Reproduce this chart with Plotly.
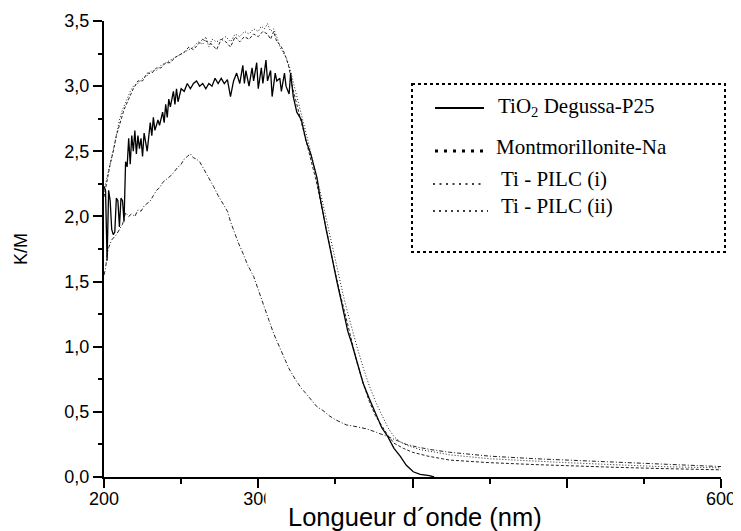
import plotly.graph_objects as go

# ---------------- data ----------------
tio2_x = [200, 201, 202, 203, 204, 205, 206, 207, 208, 209, 210, 211, 212, 213, 214, 215, 216, 217, 218, 219,
          220, 221, 222, 223, 224, 225, 226, 227, 228, 230, 231, 232, 233, 235, 236, 238, 239, 240, 241, 242,
          243, 245, 246, 247, 248, 250, 252, 254, 256, 258, 260, 262, 264, 266, 268, 270, 272, 274, 276, 278,
          280, 282, 284, 286, 288, 290, 291, 292, 294, 296, 297, 299, 300, 302, 303, 305, 306, 308, 309, 311,
          312, 314, 315, 317, 318, 320, 321, 322.7, 325, 328, 331, 334, 336, 338, 340, 342, 344, 346.5, 349,
          351, 354, 356, 358, 360.5, 364, 368, 372, 376.8, 380, 384, 388, 392, 396, 400.5, 405, 411, 414]
tio2_y = [2.23, 2.20, 1.66, 2.20, 2.12, 1.90, 1.86, 1.88, 2.14, 2.12, 1.92, 2.14, 2.12, 1.96, 2.42, 2.38, 2.60, 2.40, 2.62, 2.50,
          2.66, 2.48, 2.62, 2.52, 2.60, 2.46, 2.64, 2.56, 2.50, 2.72, 2.62, 2.76, 2.66, 2.74, 2.70, 2.80, 2.72, 2.86, 2.76, 2.90,
          2.84, 2.96, 2.86, 2.98, 2.88, 2.98, 2.96, 3.02, 2.98, 3.02, 3.04, 3.00, 3.02, 2.98, 3.02, 3.00, 3.06, 3.02, 3.06, 3.02,
          3.05, 2.92, 3.04, 3.10, 3.02, 3.16, 3.02, 3.12, 3.00, 3.14, 3.04, 3.18, 2.98, 3.14, 3.02, 3.20, 3.04, 3.12, 2.92, 3.10,
          3.04, 3.06, 2.96, 3.10, 3.00, 2.94, 3.10, 2.92, 2.80, 2.74, 2.58, 2.48, 2.40, 2.30, 2.15, 2.02, 1.90, 1.76, 1.60,
          1.50, 1.34, 1.22, 1.12, 1.03, 0.88, 0.72, 0.60, 0.46, 0.38, 0.31, 0.22, 0.16, 0.09, 0.04, 0.02, 0.01, 0.0]

mont_x = [200, 201, 202, 203, 205, 208, 210, 212, 214, 216, 218, 220, 222, 224, 226, 228, 230, 232, 234, 236,
          238, 240, 242, 244, 246, 248, 250, 252, 254, 256, 258, 260, 262, 264, 266, 268, 271, 274, 277, 280,
          282, 284, 287, 290, 293, 297, 301, 304, 307, 310, 313, 316, 320, 324, 328, 331, 335, 338, 342, 346,
          350, 354, 357, 362, 366, 370, 375, 380, 384, 390, 396, 403, 412, 424, 450, 480, 500, 530, 560, 600]
mont_y = [1.55, 1.60, 1.70, 1.76, 1.82, 1.86, 1.90, 1.94, 2.03, 2.00, 2.02, 2.00, 2.05, 2.04, 2.08, 2.10, 2.12, 2.16, 2.20, 2.22,
          2.26, 2.28, 2.30, 2.32, 2.35, 2.38, 2.40, 2.44, 2.46, 2.48, 2.45, 2.44, 2.42, 2.38, 2.34, 2.30, 2.23, 2.16, 2.10, 2.04,
          1.96, 1.89, 1.80, 1.72, 1.63, 1.54, 1.41, 1.30, 1.20, 1.10, 1.02, 0.94, 0.83, 0.75, 0.68, 0.64, 0.58, 0.54, 0.51, 0.47,
          0.44, 0.42, 0.40, 0.39, 0.38, 0.37, 0.35, 0.33, 0.31, 0.28, 0.25, 0.23, 0.21, 0.19, 0.16, 0.14, 0.13, 0.11, 0.095, 0.08]

pilc1_x = [200, 202, 204, 206, 208, 210, 213, 216, 219, 222, 225, 228, 231, 234, 237, 240, 243, 246, 249, 252,
           255, 258, 261, 264, 267, 270, 273, 276, 279, 282, 285, 288, 291, 294, 297, 300, 303, 306, 308, 310,
           312, 314, 316, 318, 320, 322, 325, 328, 331, 334, 337, 340, 343, 346, 349, 352, 355, 358, 361, 364,
           368, 372, 376, 380, 384, 388, 394, 400, 410, 424, 450, 480, 500, 530, 560, 600]
pilc1_y = [2.15, 2.28, 2.40, 2.50, 2.62, 2.70, 2.82, 2.90, 2.98, 3.04, 3.04, 3.10, 3.10, 3.14, 3.14, 3.18, 3.18, 3.22, 3.24, 3.26,
           3.30, 3.28, 3.32, 3.36, 3.34, 3.32, 3.28, 3.36, 3.34, 3.30, 3.38, 3.34, 3.38, 3.36, 3.40, 3.38, 3.42, 3.40, 3.36, 3.42,
           3.34, 3.32, 3.28, 3.22, 3.14, 3.00, 2.86, 2.72, 2.58, 2.46, 2.30, 2.14, 1.96, 1.78, 1.62, 1.46, 1.32, 1.16, 1.02, 0.88,
           0.72, 0.58, 0.47, 0.39, 0.32, 0.26, 0.22, 0.19, 0.16, 0.13, 0.11, 0.095, 0.085, 0.075, 0.065, 0.055]

pilc2_x = [200, 201, 203, 205, 207, 210, 212, 215, 217, 219, 222, 225, 228, 231, 234, 237, 240, 243, 246, 249,
           252, 255, 258, 261, 264, 266, 268, 270, 273, 276, 279, 282, 285, 288, 291, 294, 297, 300, 302, 304,
           306, 308, 310, 312, 314, 316, 318, 320, 322, 325, 328, 331, 334, 337, 340, 343, 346, 349, 352, 355,
           358, 361, 364, 368, 372, 376, 380, 384, 388, 392, 397, 405, 415, 424, 450, 480, 500, 530, 560, 600]
pilc2_y = [2.20, 2.25, 2.35, 2.46, 2.56, 2.74, 2.82, 2.90, 2.96, 3.00, 3.02, 3.06, 3.08, 3.12, 3.12, 3.16, 3.18, 3.20, 3.22, 3.24,
           3.26, 3.28, 3.30, 3.34, 3.32, 3.38, 3.30, 3.36, 3.34, 3.36, 3.38, 3.34, 3.40, 3.38, 3.42, 3.40, 3.44, 3.42, 3.46, 3.44,
           3.48, 3.42, 3.44, 3.38, 3.30, 3.26, 3.22, 3.16, 3.06, 2.92, 2.78, 2.64, 2.50, 2.36, 2.20, 2.04, 1.88, 1.72, 1.55, 1.40,
           1.26, 1.12, 1.00, 0.84, 0.70, 0.58, 0.48, 0.38, 0.31, 0.27, 0.24, 0.21, 0.19, 0.17, 0.14, 0.12, 0.11, 0.095, 0.08, 0.07]

legend_labels = ["TiO<sub>2</sub> Degussa-P25", "Montmorillonite-Na", "Ti - PILC (i)", "Ti - PILC (ii)"]
x_tick_vals = [200, 300, 400, 500, 600]
x_title = "Longueur d´onde (nm)"
y_title = "K/M"

# ---------------- layout geometry (pixels) ----------------
# the page body adds an 8px offset, so geometry is expressed in window pixels and shifted
OFF = 8
W, H = 741, 531
PLOT_L, PLOT_R, PLOT_T, PLOT_B = 104, 721, 21, 477   # plot area in window pixels
ML = PLOT_L - OFF
MT = PLOT_T - OFF
PW = PLOT_R - PLOT_L
PH = PLOT_B - PLOT_T
MR = W - ML - PW
MB = H - MT - PH


def px(x):
    return (x - PLOT_L) / PW


def py(y):
    return (PLOT_B - y) / PH


fig = go.Figure()
fig.add_trace(go.Scatter(x=mont_x, y=mont_y, mode="lines", name="Montmorillonite-Na",
                         line=dict(color="#222", width=1, dash="4px,2px,1px,2px")))
fig.add_trace(go.Scatter(x=pilc1_x, y=pilc1_y, mode="lines", name="Ti - PILC (i)",
                         line=dict(color="#222", width=1, dash="3px,2px")))
fig.add_trace(go.Scatter(x=pilc2_x, y=pilc2_y, mode="lines", name="Ti - PILC (ii)",
                         line=dict(color="#222", width=1, dash="1px,2px")))
fig.add_trace(go.Scatter(x=tio2_x, y=tio2_y, mode="lines", name="TiO2 Degussa-P25",
                         line=dict(color="black", width=1.3)))

axis_font = dict(family="Liberation Sans, Arial", size=18, color="black")

fig.update_xaxes(range=[200, 600], tickvals=x_tick_vals, ticks="outside", ticklen=9, tickwidth=2,
                 tickcolor="black", showline=True, linecolor="black", linewidth=2, mirror=False,
                 showgrid=False, zeroline=False, tickfont=axis_font, ticklabelstandoff=-5,
                 minor=dict(dtick=50, ticks="outside", ticklen=5, tickwidth=2, tickcolor="black", showgrid=False))
fig.update_yaxes(range=[0, 3.5], dtick=0.5, tickformat=".1f", ticks="outside", ticklen=9, tickwidth=2,
                 tickcolor="black", showline=True, linecolor="black", linewidth=2, mirror=False,
                 showgrid=False, zeroline=False, tickfont=axis_font,
                 title=dict(text=y_title, font=dict(family="Liberation Sans, Arial", size=18, color="black"),
                            standoff=32),
                 minor=dict(dtick=0.25, ticks="outside", ticklen=4, tickwidth=2, tickcolor="black", showgrid=False))

# legend box (dotted border) and samples
shapes = [dict(type="rect", xref="paper", yref="paper", x0=px(412), x1=px(725), y0=py(84), y1=py(252),
               line=dict(color="black", width=2, dash="dot"), fillcolor="rgba(0,0,0,0)")]
samples = [
    (435, 484, 108, dict(color="black", width=2, dash="solid")),
    (435, 486, 151, dict(color="black", width=3, dash="3px,6px")),
    (433, 483, 184, dict(color="black", width=1.6, dash="2px,4.5px")),
    (433, 488, 211, dict(color="black", width=1.6, dash="2px,4px")),
]
for x0, x1, yy, ln in samples:
    shapes.append(dict(type="line", xref="paper", yref="paper", x0=px(x0), x1=px(x1), y0=py(yy), y1=py(yy), line=ln))

leg_pos = [(496, 107), (494, 147), (499, 179), (499, 206)]
annotations = []
for (lx, ly), lab in zip(leg_pos, legend_labels):
    annotations.append(dict(xref="paper", yref="paper", x=px(lx), y=py(ly), xanchor="left", yanchor="middle",
                            text=lab, showarrow=False,
                            font=dict(family="Liberation Serif, Times New Roman", size=21, color="black")))

# white box behind the x title (it hides part of the tick labels, as in the reference)
annotations.append(dict(xref="paper", yref="paper", x=px(265), y=py(490), xanchor="left", yanchor="top",
                        text=" ", showarrow=False, width=315, height=40, bgcolor="white",
                        font=dict(size=10)))
annotations.append(dict(xref="paper", yref="paper", x=px(415), y=py(517), xanchor="center", yanchor="middle",
                        text=x_title, showarrow=False,
                        font=dict(family="Liberation Sans, Arial", size=25.5, color="black")))

fig.update_layout(width=W, height=H, margin=dict(l=ML, r=MR, t=MT, b=MB, autoexpand=False),
                  plot_bgcolor="white", paper_bgcolor="white", showlegend=False,
                  separators=",.", shapes=shapes, annotations=annotations)

fig.write_html("out.html")
